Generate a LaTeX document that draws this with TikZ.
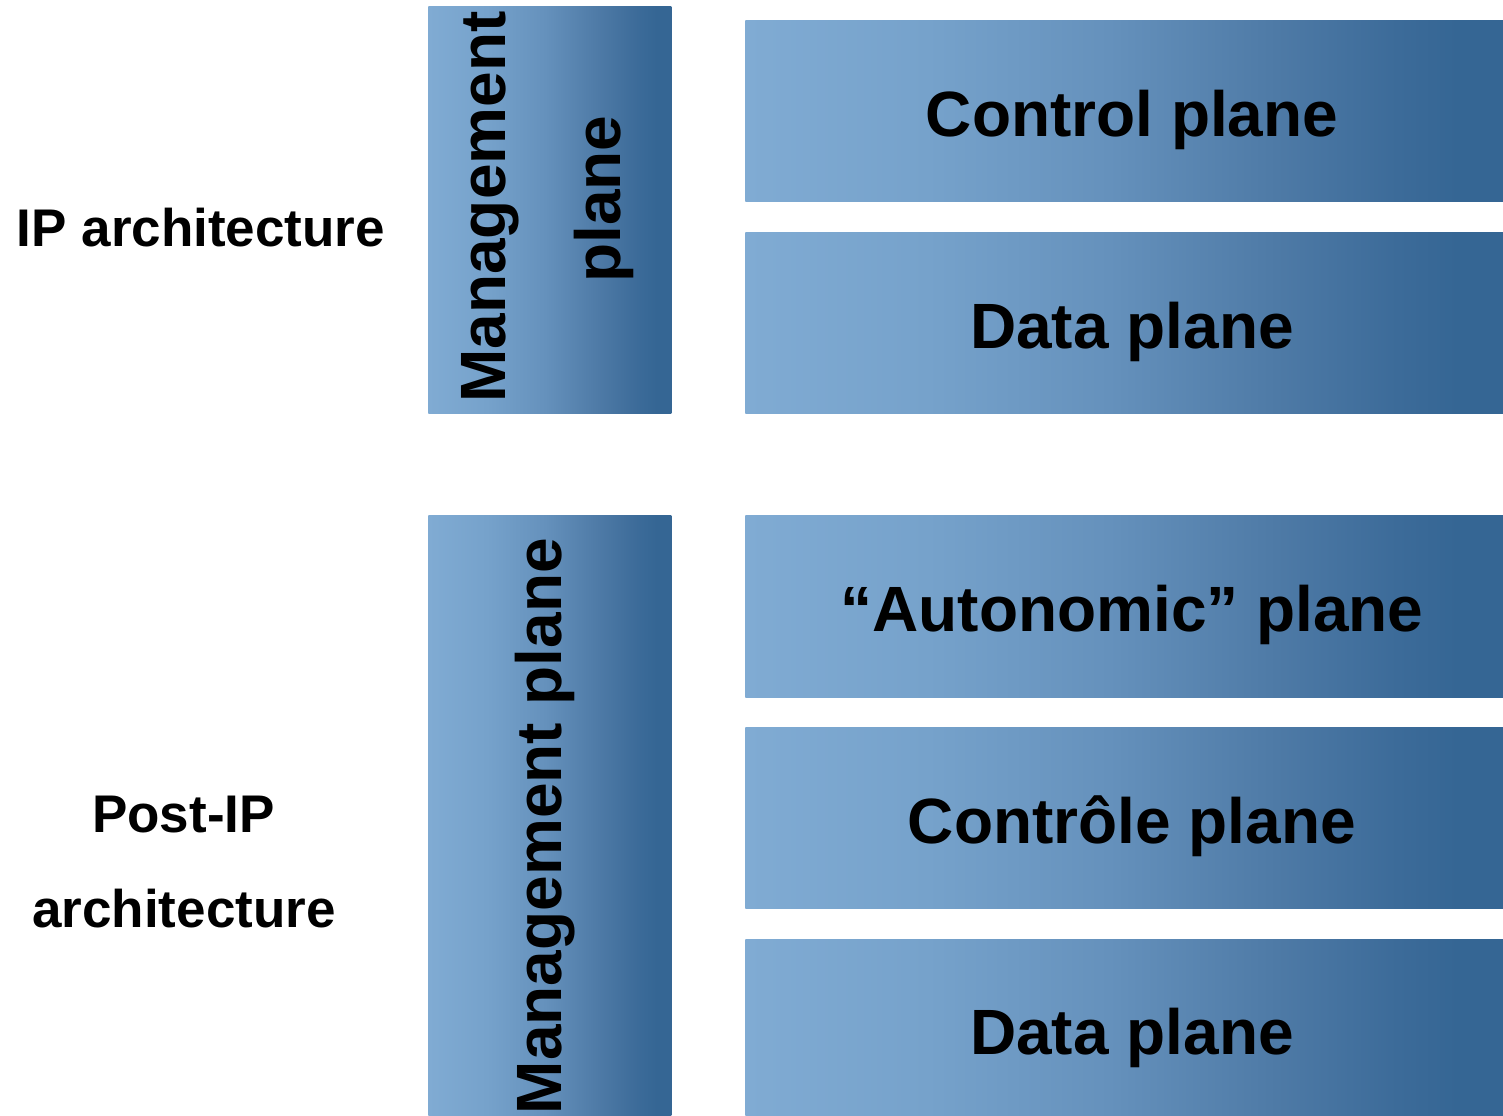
\documentclass[tikz,border=0pt]{standalone}
\usepackage{fontspec}
\setmainfont{Liberation Sans}
\begin{document}
\begin{tikzpicture}[x=0.5pt,y=-0.5pt]
  % blue planes: light on the left, dark on the right
  \definecolor{plA}{HTML}{80ABD3}
  \definecolor{plB}{HTML}{76A2CB}
  \definecolor{plC}{HTML}{6591BC}
  \definecolor{plD}{HTML}{4E7AA6}
  \definecolor{plE}{HTML}{3C6B99}
  \definecolor{plF}{HTML}{356694}
  \pgfdeclarehorizontalshading{planeshade}{100bp}{%
    color(0bp)=(plA); color(25bp)=(plA); color(37bp)=(plB);
    color(49bp)=(plC); color(60bp)=(plD); color(68bp)=(plE);
    color(72bp)=(plF); color(100bp)=(plF)}
  \tikzset{
    plane/.style={rectangle, draw=none, inner sep=0pt, anchor=north west,
      shading=planeshade},
    planetext/.style={anchor=base, inner sep=0pt,
      font=\fontsize{32pt}{38pt}\selectfont\bfseries},
    archtext/.style={anchor=base, inner sep=0pt,
      font=\fontsize{26.5pt}{32pt}\selectfont\bfseries}
  }
  \useasboundingbox (0,0) rectangle (1503,1115);

  % IP architecture
  \node[plane, minimum width=121.5pt, minimum height=203.5pt] (mgmtA) at (428,6) {};
  \node[plane, minimum width=379pt, minimum height=90.5pt] (ctrlA) at (745,20) {};
  \node[plane, minimum width=379pt, minimum height=90.5pt] (dataA) at (745,232) {};

  \node[archtext] (ipArch) at (201,246) {IP architecture};
  \node[planetext, rotate=90] (mgmtAtxt1) at (505,207) {Management};
  \node[planetext, rotate=90] (mgmtAtxt2) at (620,199) {plane};
  \node[planetext] (ctrlAtxt) at (1132,136) {Control plane};
  \node[planetext] (dataAtxt) at (1132,348) {Data plane};

  % Post-IP architecture
  \node[plane, minimum width=121.5pt, minimum height=300pt] (mgmtB) at (428,515) {};
  \node[plane, minimum width=379pt, minimum height=91pt] (autoB) at (745,515) {};
  \node[plane, minimum width=379pt, minimum height=90.5pt] (ctrlB) at (745,727) {};
  \node[plane, minimum width=379pt, minimum height=88pt] (dataB) at (745,939) {};

  \node[archtext] (postIP1) at (183.5,832) {Post-IP};
  \node[archtext] (postIP2) at (184,927) {architecture};
  \node[planetext, rotate=90] (mgmtBtxt) at (561,826) {Management plane};
  \node[planetext] (autoBtxt) at (1132,631) {“Autonomic” plane};
  \node[planetext] (ctrlBtxt) at (1132,843) {Contrôle plane};
  \node[planetext] (dataBtxt) at (1132,1054) {Data plane};
\end{tikzpicture}
\end{document}
